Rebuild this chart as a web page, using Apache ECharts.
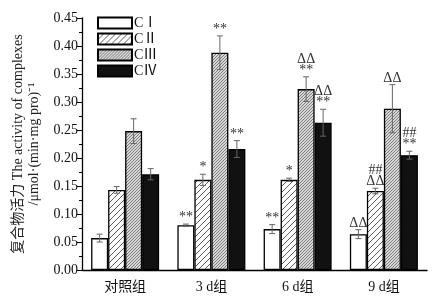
<!DOCTYPE html>
<html>
<head>
<meta charset="utf-8">
<script src="https://cdn.jsdelivr.net/npm/echarts@6/dist/echarts.min.js"></script>
<style>
  html, body { margin: 0; padding: 0; background: #fff; }
  #chart { width: 445px; height: 302px; }
</style>
</head>
<body>
<div id="chart"></div>
<script>
const categories = ['对照组', '3 d组', '6 d组', '9 d组']
const seriesNames = ['CⅠ', 'CⅡ', 'CⅢ', 'CⅣ']

const c1 = [0.057, 0.080, 0.073, 0.064]
const c2 = [0.143, 0.161, 0.161, 0.141]
const c3 = [0.248, 0.388, 0.323, 0.288]
const c4 = [0.171, 0.216, 0.263, 0.205]

const err1 = [0.007, 0.002, 0.008, 0.008]
const err2 = [0.006, 0.010, 0.003, 0.005]
const err3 = [0.022, 0.030, 0.022, 0.043]
const err4 = [0.010, 0.015, 0.024, 0.007]

const marks1 = ['', '**', '**', 'ΔΔ']
const marks2 = ['', '*', '*', '##\nΔΔ']
const marks3 = ['', '**', 'ΔΔ\n**', 'ΔΔ']
const marks4 = ['', '**', 'ΔΔ\n**', '##\n**']

const values = [c1, c2, c3, c4]
const errors = [err1, err2, err3, err4]
const marks = [marks1, marks2, marks3, marks4]

const serif = '"Liberation Serif", "Noto Sans CJK SC", serif'
const barW = 17

// hatch fills
function hatch(step, bg, fg, lw) {
  const c = document.createElement('canvas')
  c.width = step
  c.height = step
  const g = c.getContext('2d')
  g.fillStyle = bg
  g.fillRect(0, 0, step, step)
  g.strokeStyle = fg
  g.lineWidth = lw
  g.beginPath()
  g.moveTo(-1, step + 1); g.lineTo(step + 1, -1)
  g.moveTo(-1, 1); g.lineTo(1, -1)
  g.moveTo(step - 1, step + 1); g.lineTo(step + 1, step - 1)
  g.stroke()
  return { image: c, repeat: 'repeat' }
}

const fills = [
  '#ffffff',
  hatch(6, '#ffffff', '#333333', 0.8),
  hatch(3, '#d8d8d8', '#555555', 0.7),
  '#111111'
]

const chart = echarts.init(document.getElementById('chart'))

const barSeries = seriesNames.map((name, k) => ({
  name,
  type: 'bar',
  barWidth: barW,
  barGap: '0%',
  data: values[k],
  itemStyle: { color: fills[k], borderColor: '#000', borderWidth: 1.3 },
  z: 2
}))

const errSeries = seriesNames.map((name, k) => ({
  type: 'custom',
  data: categories.map((c, i) => [i, values[k][i], errors[k][i], i]),
  encode: { x: 0, y: 1 },
  z: 5,
  silent: true,
  renderItem: (params, api) => {
    const i = api.value(0)
    const v = api.value(1)
    const e = api.value(2)
    const off = (k - 1.5) * barW
    const top = api.coord([i, v + e])
    const bot = api.coord([i, v - e])
    const x = top[0] + off
    const cap = 3
    const lineStyle = { stroke: '#666', lineWidth: 1 }
    const children = [
      { type: 'line', shape: { x1: x, y1: top[1], x2: x, y2: bot[1] }, style: lineStyle },
      { type: 'line', shape: { x1: x - cap, y1: top[1], x2: x + cap, y2: top[1] }, style: lineStyle },
      { type: 'line', shape: { x1: x - cap, y1: bot[1], x2: x + cap, y2: bot[1] }, style: lineStyle }
    ]
    const txt = marks[k][api.value(3)]
    if (txt) {
      children.push({
        type: 'text',
        style: {
          text: txt, x: x, y: top[1] - 1,
          align: 'center', verticalAlign: 'bottom',
          font: '14px ' + serif, fill: '#333', lineHeight: 11
        }
      })
    }
    return { type: 'group', children }
  }
}))

chart.setOption({
  animation: false,
  grid: { left: 82, right: 18, top: 18, bottom: 32 },
  legend: {
    data: seriesNames,
    orient: 'vertical',
    left: 92,
    top: 11,
    icon: 'rect',
    itemWidth: 34,
    itemHeight: 11,
    itemGap: 2,
    textStyle: { fontFamily: serif, fontSize: 14, color: '#111', padding: [0, 0, 0, -3] }
  },
  xAxis: [
    {
      type: 'category',
      data: categories,
      axisLine: { lineStyle: { color: '#000', width: 1.3 } },
      axisTick: { length: 5, lineStyle: { color: '#000' } },
      axisLabel: { fontFamily: serif, fontSize: 14, color: '#111', margin: 10 }
    },
    {
      type: 'category',
      data: categories,
      position: 'bottom',
      axisLine: { show: false },
      axisTick: { alignWithLabel: true, length: 5, lineStyle: { color: '#000' } },
      axisLabel: { show: false }
    }
  ],
  yAxis: {
    type: 'value',
    min: 0,
    max: 0.45,
    interval: 0.05,
    name: '复合物活力 The activity of complexes\n/μmol·(min·mg pro)⁻¹',
    nameLocation: 'middle',
    nameRotate: 90,
    nameGap: 40,
    nameTextStyle: { fontFamily: serif, fontSize: 14, color: '#222', lineHeight: 16 },
    axisLine: { show: true, lineStyle: { color: '#000', width: 1.3 } },
    axisTick: { show: true, length: 5, lineStyle: { color: '#000' } },
    minorTick: { show: true, splitNumber: 2, length: 3, lineStyle: { color: '#000' } },
    splitLine: { show: false },
    axisLabel: { fontFamily: serif, fontSize: 14, color: '#111', margin: 4, formatter: v => v.toFixed(2) }
  },
  series: [...barSeries, ...errSeries]
})
</script>
</body>
</html>
